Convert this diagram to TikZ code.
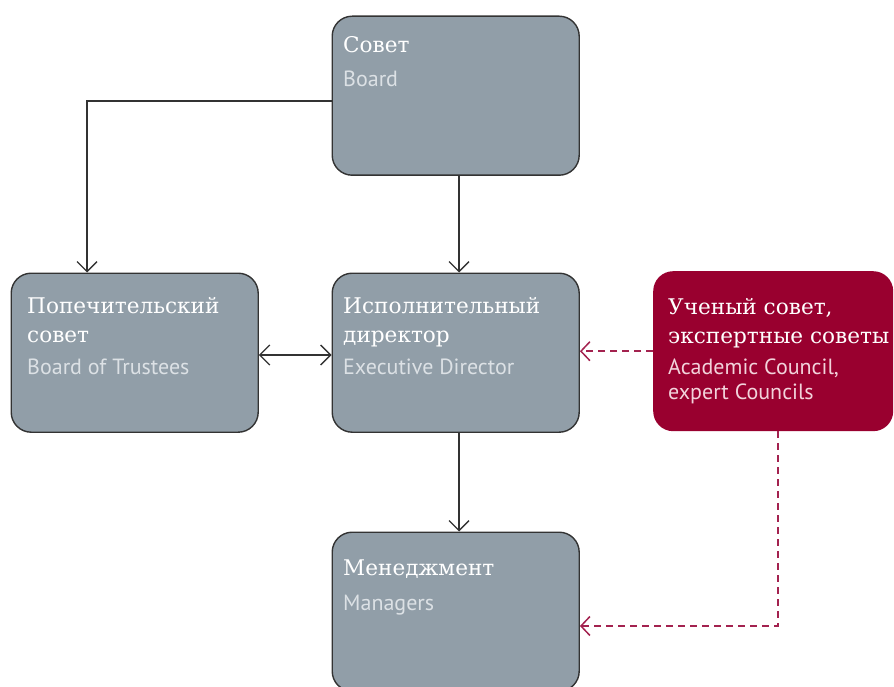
\documentclass[tikz,border=0pt]{standalone}
\usepackage{fontspec}
\setmainfont{DejaVu Serif}
\newfontfamily\ensans{PT Sans}
\usetikzlibrary{arrows.meta}
\definecolor{boxgray}{HTML}{919EA8}
\definecolor{boxline}{HTML}{333333}
\definecolor{crim}{HTML}{99002F}
\definecolor{dashred}{HTML}{A3224F}
\definecolor{entext}{HTML}{DCE1E5}
\definecolor{enred}{HTML}{F2D3DB}
\tikzset{
  box/.style={draw=boxline, line width=1.4pt, fill=boxgray, rounded corners=20pt,
    minimum width=247pt, minimum height=159pt, anchor=north west, inner sep=0pt},
  redbox/.style={fill=crim, rounded corners=20pt,
    minimum width=240pt, minimum height=160pt, anchor=north west, inner sep=0pt},
  ttl/.style={anchor=base west, inner sep=0pt, text=white, font=\fontsize{21.6}{29}\selectfont},
  sub/.style={anchor=base west, inner sep=0pt, text=entext, font=\ensans\fontsize{22}{25}\selectfont},
  subred/.style={sub, text=enred},
  conn/.style={draw=boxline, line width=1.2pt, -{Straight Barb[length=10pt,width=20pt,line width=1.3pt]}},
  conn2/.style={draw=boxline, line width=1.2pt, {Straight Barb[length=10pt,width=20pt,line width=1.3pt]}-{Straight Barb[length=10pt,width=20pt,line width=1.3pt]}},
  dconn/.style={draw=dashred, line width=1.6pt, dash pattern=on 7pt off 5pt, -{Straight Barb[length=9pt,width=19pt,line width=1.5pt]}},
}
\begin{document}
\begin{tikzpicture}[x=1pt,y=-1pt]
\useasboundingbox (0,0) rectangle (894,687);
% boxes
\node[box] (board) at (331.5,15.5) {};
\node[box] (trust) at (10.5,272.5) {};
\node[box] (exec) at (331.5,272.5) {};
\node[redbox] (acad) at (653,271) {};
\node[box] (mgr) at (331.5,531.5) {};
% texts
\node[ttl] (t1) at (343,53) {Совет};
\node[sub] (s1) at (343,87) {Board};
\node[ttl] (t2a) at (27,313) {Попечительский};
\node[ttl] (t2b) at (27,342) {совет};
\node[sub] (s2) at (27,374) {Board of Trustees};
\node[ttl] (t3a) at (343,313) {Исполнительный};
\node[ttl] (t3b) at (343,342) {директор};
\node[sub] (s3) at (343,374) {Executive Director};
\node[ttl] (t4a) at (668,314) {Ученый совет,};
\node[ttl] (t4b) at (668,343) {экспертные советы};
\node[subred] (s4a) at (668,374) {Academic Council,};
\node[subred] (s4b) at (668,399) {expert Councils};
\node[ttl] (t5) at (343,575) {Менеджмент};
\node[sub] (s5) at (343,610) {Managers};
% connector coordinates
\coordinate (c1) at (87,101);
\coordinate (c2) at (459,0);
\coordinate (c3) at (0,355);
\coordinate (c4) at (778,626);
% connectors
\draw[conn] (board.west |- c1) -| (trust.north -| c1);
\draw[conn] (board.south -| c2) -- (exec.north -| c2);
\draw[conn] (exec.south -| c2) -- (mgr.north -| c2);
\draw[conn2] (trust.east |- c3) -- (exec.west |- c3);
\draw[dconn] (acad.west) -- (exec.east |- acad.west);
\draw[dconn] (acad.south -| c4) -- (c4) -- (mgr.east |- c4);
\end{tikzpicture}
\end{document}
